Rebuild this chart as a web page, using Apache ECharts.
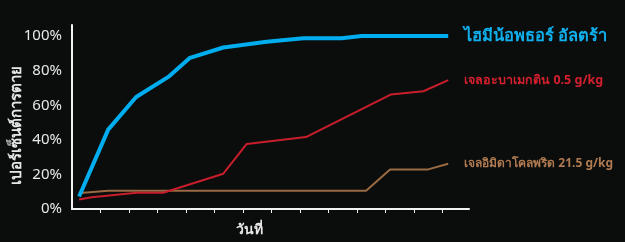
<!DOCTYPE html>
<html>
<head>
<meta charset="utf-8">
<script src="https://cdn.jsdelivr.net/npm/echarts@6/dist/echarts.min.js"></script>
<style>
html,body{margin:0;padding:0;background:#0a0d0c;}
#c{width:625px;height:242px;}
</style>
</head>
<body>
<div id="c"></div>
<script>
var seriesNames = ['ไฮมีน้อพธอร์ อัลตร้า', 'เจลอะบาเมกติน 0.5 g/kg', 'เจลอิมิดาโคลพริด 21.5 g/kg'];
var blueData = [[0.25,7.2],[1.27,45.9],[2.25,64.8],[3.38,76.4],[4.14,87.4],[5.31,93.4],[6.83,96.7],[8.12,98.7],[9.46,98.7],[10.16,100],[13.2,100]];
var redData = [[0.25,5.5],[0.69,6.8],[2.27,9.4],[3.2,9.4],[5.31,20.4],[6.13,37.6],[8.21,41.6],[11.18,66.2],[12.33,68.1],[13.2,74.5]];
var brownData = [[0.3,9.2],[1.27,10.5],[10.32,10.5],[11.16,22.9],[12.5,22.9],[13.2,26.2]];
var yTicks = [0,20,40,60,80,100];
var xTicks = [1,2,3,4,5,6,7,8,9,10,11,12,13];
var xName = 'วันที่';
var yName = 'เปอร์เซ็นต์การตาย';

var font = '"Liberation Sans Narrow","Noto Sans","DejaVu Sans",sans-serif';
var chart = echarts.init(document.getElementById('c'));
function mk(name, data, color, textColor, width, fs){
  return {
    type:'line', name:name, data:data, symbol:'none', animation:false,
    lineStyle:{color:color, width:width},
    endLabel:{show:true, formatter:'{a}', color:textColor, fontSize:fs, fontWeight:'bold', fontFamily:font, distance:16}
  };
}
chart.setOption({
  backgroundColor:'#0a0d0c',
  animation:false,
  grid:{left:72, right:156, top:25, bottom:33, containLabel:false, outerBoundsMode:'none'},
  xAxis:{
    type:'value', min:0, max:13.93,
    axisLine:{show:true, lineStyle:{color:'#f2f2f2', width:2}},
    axisTick:{show:true, customValues:xTicks, length:4, lineStyle:{color:'#f2f2f2', width:1}},
    axisLabel:{show:false},
    splitLine:{show:false}
  },
  yAxis:{
    type:'value', min:0, max:106.4,
    axisLine:{show:true, lineStyle:{color:'#f2f2f2', width:2}},
    axisTick:{show:false},
    axisLabel:{customValues:yTicks, formatter:'{value}%', color:'#e8e8e8', fontSize:15, fontFamily:font, margin:10},
    splitLine:{show:false}
  },
  graphic:[
    {type:'text', left:236, top:223, style:{text:xName, fill:'#e8e8e8', fontSize:14, fontWeight:'bold', fontFamily:font}},
    {type:'text', x:17, y:125, rotation:Math.PI/2, style:{text:yName, fill:'#e8e8e8', fontSize:15, fontWeight:'bold', fontFamily:font, align:'center', verticalAlign:'middle'}}
  ],
  series:[
    mk(seriesNames[2], brownData, '#9a6a43', '#b07a50', 2, 12),
    mk(seriesNames[1], redData, '#c81e2c', '#d4202e', 2, 12.5),
    mk(seriesNames[0], blueData, '#00aeef', '#10b0ee', 4, 16.5)
  ]
});
</script>
</body>
</html>
